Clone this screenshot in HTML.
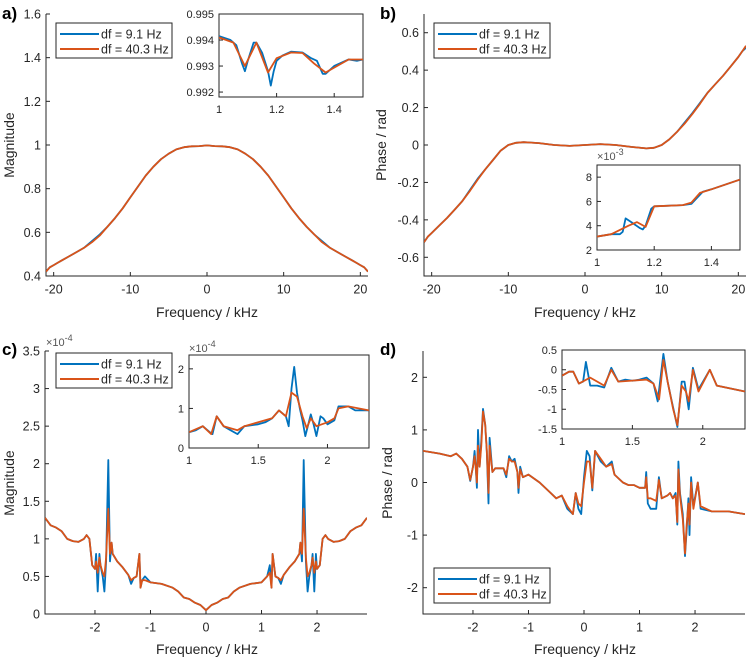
<!DOCTYPE html>
<html><head><meta charset="utf-8">
<style>
body{margin:0;background:#fff;}
svg{display:block;font-family:"Liberation Sans",sans-serif;}
</style></head>
<body>
<svg id="fig" width="756" height="661" viewBox="0 0 756 661" xmlns="http://www.w3.org/2000/svg"></svg>
<script>
// ---------- DATA ----------
const aX = [-21,-20.5,-20,-19.5,-19,-18,-17,-16,-15,-14,-13,-12,-11,-10,-9,-8,-7,-6,-5,-4,-3,-2,-1,0,1,2,3,4,5,6,7,8,9,10,11,12,13,14,15,16,17,18,19,19.5,20,20.5,21];
const aBlue = [0.42,0.44,0.45,0.46,0.47,0.49,0.51,0.53,0.56,0.59,0.625,0.665,0.71,0.76,0.81,0.86,0.90,0.935,0.96,0.98,0.99,0.994,0.995,0.998,0.995,0.994,0.99,0.98,0.96,0.935,0.90,0.86,0.81,0.76,0.71,0.665,0.625,0.59,0.56,0.53,0.51,0.49,0.47,0.46,0.45,0.44,0.42];
const aOrange = [0.42,0.44,0.45,0.46,0.47,0.49,0.51,0.53,0.555,0.585,0.625,0.665,0.71,0.76,0.81,0.86,0.90,0.935,0.96,0.98,0.99,0.994,0.995,0.998,0.995,0.994,0.99,0.98,0.96,0.935,0.90,0.86,0.81,0.76,0.71,0.665,0.625,0.59,0.555,0.53,0.51,0.49,0.47,0.46,0.45,0.44,0.42];
const aInsBlueX = [1.0,1.04,1.06,1.08,1.09,1.10,1.12,1.13,1.15,1.17,1.18,1.19,1.2,1.22,1.25,1.29,1.32,1.34,1.36,1.37,1.4,1.45,1.48,1.5];
const aInsBlue = [0.99415,0.9940,0.9938,0.9931,0.9928,0.9932,0.9939,0.9939,0.9935,0.9928,0.99225,0.9928,0.9932,0.9934,0.99355,0.99352,0.9933,0.9932,0.9927,0.9927,0.9930,0.99325,0.9932,0.99325];
const aInsOrangeX = [1.0,1.05,1.09,1.13,1.17,1.2,1.25,1.29,1.33,1.37,1.41,1.45,1.5];
const aInsOrange = [0.9941,0.9939,0.9930,0.9939,0.99275,0.9933,0.99352,0.9935,0.9931,0.99275,0.9930,0.99325,0.99325];
const bX = [-21,-20.5,-20,-19,-18,-17,-16,-15,-14,-13,-12,-11,-10,-9,-8,-7,-6,-4,-2,0,2,4,6,7,8,9,10,11,12,13,14,15,16,17,18,19,20,20.5,21];
const bBlue = [-0.52,-0.49,-0.47,-0.43,-0.39,-0.345,-0.30,-0.24,-0.18,-0.13,-0.08,-0.03,0.0,0.012,0.015,0.013,0.01,0.0,-0.005,0.0,0.005,0.0,-0.01,-0.014,-0.018,-0.015,0.0,0.03,0.07,0.12,0.17,0.225,0.28,0.325,0.37,0.42,0.47,0.5,0.52];
const bOrange = [-0.52,-0.49,-0.47,-0.43,-0.39,-0.345,-0.30,-0.245,-0.185,-0.13,-0.08,-0.03,0.0,0.012,0.015,0.013,0.01,0.0,-0.005,0.0,0.005,0.0,-0.01,-0.014,-0.018,-0.015,0.0,0.03,0.07,0.115,0.165,0.22,0.28,0.325,0.37,0.42,0.47,0.5,0.53];
const bInsBlueX = [1.0,1.05,1.08,1.09,1.10,1.12,1.15,1.16,1.17,1.19,1.2,1.3,1.33,1.35,1.37,1.4,1.5];
const bInsBlue = [3.1,3.3,3.3,3.5,4.6,4.3,3.8,3.7,4.0,5.4,5.6,5.7,5.8,6.3,6.8,7.0,7.8];
const bInsOrangeX = [1.0,1.05,1.11,1.14,1.17,1.2,1.3,1.33,1.36,1.4,1.5];
const bInsOrange = [3.1,3.3,4.0,4.3,3.9,5.6,5.7,5.9,6.7,7.0,7.8];
const cX = [-2.9,-2.8,-2.7,-2.6,-2.5,-2.4,-2.3,-2.2,-2.15,-2.1,-2.05,-2.0,-1.98,-1.95,-1.92,-1.9,-1.86,-1.83,-1.8,-1.76,-1.73,-1.7,-1.68,-1.6,-1.5,-1.4,-1.35,-1.3,-1.25,-1.2,-1.18,-1.15,-1.1,-1.0,-0.8,-0.6,-0.5,-0.4,-0.3,-0.2,-0.1,0,0.1,0.2,0.3,0.4,0.5,0.6,0.8,1.0,1.1,1.15,1.18,1.2,1.25,1.3,1.35,1.4,1.5,1.6,1.68,1.7,1.73,1.76,1.8,1.83,1.86,1.9,1.92,1.95,1.98,2.0,2.05,2.1,2.15,2.2,2.3,2.4,2.5,2.6,2.7,2.8,2.9];
const cBlue = [1.28,1.18,1.15,1.1,1.0,0.97,0.96,1.0,1.05,1.0,0.65,0.6,0.8,0.3,0.8,0.65,0.5,0.3,0.7,2.05,0.7,0.95,0.8,0.7,0.62,0.52,0.4,0.48,0.5,0.8,0.35,0.45,0.5,0.42,0.4,0.35,0.3,0.22,0.2,0.15,0.12,0.05,0.12,0.15,0.2,0.22,0.3,0.35,0.4,0.42,0.5,0.65,0.35,0.8,0.5,0.48,0.4,0.52,0.62,0.7,0.8,0.95,0.7,2.05,0.7,0.3,0.5,0.65,0.8,0.3,0.8,0.6,0.65,1.0,1.05,1.0,0.96,0.97,1.0,1.1,1.15,1.18,1.28];
const cOrange = [1.28,1.18,1.15,1.1,1.0,0.97,0.96,1.0,1.05,1.0,0.65,0.6,0.7,0.55,0.75,0.65,0.55,0.5,0.75,1.4,0.8,0.95,0.8,0.7,0.62,0.52,0.45,0.48,0.5,0.8,0.35,0.45,0.45,0.42,0.4,0.35,0.3,0.22,0.2,0.15,0.12,0.05,0.12,0.15,0.2,0.22,0.3,0.35,0.4,0.42,0.5,0.55,0.35,0.8,0.5,0.48,0.45,0.52,0.62,0.7,0.8,0.95,0.8,1.4,0.75,0.5,0.55,0.65,0.75,0.55,0.7,0.6,0.65,1.0,1.05,1.0,0.96,0.97,1.0,1.1,1.15,1.18,1.28];
const cInsBlueX = [1.0,1.05,1.1,1.15,1.17,1.2,1.25,1.3,1.35,1.4,1.5,1.55,1.6,1.65,1.7,1.72,1.74,1.76,1.78,1.8,1.82,1.84,1.88,1.9,1.92,1.95,1.97,2.0,2.05,2.08,2.15,2.2,2.3];
const cInsBlue = [0.4,0.45,0.55,0.4,0.35,0.8,0.55,0.45,0.35,0.55,0.6,0.65,0.75,0.95,0.8,0.55,1.5,2.05,1.4,1.0,0.7,0.3,0.85,0.6,0.3,0.8,0.75,0.6,0.7,1.05,1.05,0.95,0.95];
const cInsOrangeX = [1.0,1.1,1.16,1.2,1.25,1.35,1.4,1.5,1.6,1.65,1.7,1.74,1.78,1.82,1.85,1.88,1.92,2.0,2.05,2.08,2.15,2.3];
const cInsOrange = [0.4,0.55,0.35,0.8,0.55,0.45,0.55,0.65,0.75,0.95,0.8,1.4,1.3,0.8,0.5,0.75,0.55,0.65,0.75,1.0,1.05,0.95];
const dX = [-2.9,-2.6,-2.4,-2.3,-2.2,-2.1,-2.05,-2.0,-1.97,-1.95,-1.93,-1.91,-1.88,-1.85,-1.82,-1.78,-1.75,-1.72,-1.7,-1.65,-1.6,-1.5,-1.45,-1.4,-1.35,-1.3,-1.25,-1.2,-1.18,-1.15,-1.1,-1.0,-0.8,-0.6,-0.5,-0.4,-0.3,-0.2,-0.15,-0.1,-0.05,0.0,0.05,0.1,0.15,0.2,0.3,0.4,0.5,0.55,0.7,0.8,0.9,1.0,1.1,1.12,1.15,1.2,1.3,1.35,1.4,1.5,1.55,1.6,1.65,1.68,1.7,1.73,1.78,1.82,1.85,1.88,1.9,1.93,1.97,2.05,2.1,2.3,2.6,2.9];
const dBlue = [0.6,0.55,0.5,0.55,0.45,0.3,0.03,0.3,0.6,0.3,-0.1,1.0,0.3,0.8,1.4,1.1,0.6,-0.4,0.85,0.2,0.27,0.27,0.27,0.1,0.5,0.4,0.45,0.2,-0.2,0.3,0.1,0.15,0.0,-0.2,-0.3,-0.25,-0.5,-0.6,-0.2,-0.5,-0.6,0.1,0.6,0.5,-0.15,0.6,0.4,0.3,0.4,0.15,0.0,-0.05,-0.05,-0.1,-0.1,0.2,-0.4,-0.5,-0.5,0.1,-0.3,-0.25,-0.2,-0.3,-0.2,-0.8,0.4,-0.2,-0.6,-1.4,-0.9,-0.3,-1.0,0.1,-0.45,0.0,-0.5,-0.55,-0.55,-0.6];
const dOrange = [0.6,0.55,0.5,0.55,0.45,0.3,0.05,0.3,0.5,0.3,0.0,0.7,0.3,0.7,1.35,1.1,0.6,-0.2,0.7,0.2,0.27,0.27,0.27,0.15,0.45,0.4,0.4,0.2,-0.1,0.25,0.1,0.15,0.0,-0.2,-0.3,-0.25,-0.45,-0.6,-0.2,-0.4,-0.45,0.0,0.4,0.4,-0.1,0.6,0.45,0.3,0.35,0.15,0.0,-0.05,-0.05,-0.1,-0.1,0.1,-0.3,-0.3,-0.35,0.05,-0.3,-0.25,-0.2,-0.3,-0.25,-0.75,0.25,-0.25,-0.7,-1.35,-0.8,-0.4,-0.8,0.0,-0.5,0.0,-0.45,-0.55,-0.55,-0.6];
const dInsBlueX = [1.0,1.05,1.08,1.12,1.15,1.17,1.2,1.25,1.3,1.35,1.4,1.45,1.5,1.55,1.6,1.65,1.68,1.72,1.75,1.78,1.82,1.85,1.87,1.9,1.93,1.97,2.05,2.1,2.3];
const dInsBlue = [-0.15,-0.05,-0.05,-0.35,-0.3,0.2,-0.4,-0.4,-0.45,0.05,-0.3,-0.25,-0.28,-0.25,-0.2,-0.35,-0.8,0.4,-0.3,-0.8,-1.45,-0.3,-0.3,-1.0,0.05,-0.5,0.0,-0.4,-0.55];
const dInsOrangeX = [1.0,1.05,1.08,1.12,1.2,1.3,1.35,1.4,1.6,1.65,1.69,1.72,1.75,1.79,1.82,1.85,1.88,1.9,1.93,1.97,2.05,2.1,2.3];
const dInsOrange = [-0.15,-0.05,-0.05,-0.35,-0.2,-0.4,0.0,-0.3,-0.25,-0.35,-0.75,0.25,-0.3,-1.0,-1.4,-0.4,-0.55,-0.8,0.0,-0.55,0.0,-0.4,-0.55];

const ticksKHzWide = [-20,-10,0,10,20];
const ticksKHzNarrow = [-2,-1,0,1,2];
const ticksA = [0.4,0.6,0.8,1,1.2,1.4,1.6];
const ticksB = [-0.6,-0.4,-0.2,0,0.2,0.4,0.6];
const ticksC = [0,0.5,1,1.5,2,2.5,3,3.5];
const ticksD = [-2,-1,0,1,2];
const ticksInsAX = [1,1.2,1.4];
const ticksInsAY = [0.992,0.993,0.994,0.995];
const ticksInsBY = [2,4,6,8];
const ticksInsCX = [1,1.5,2];
const ticksInsCY = [0,1,2];
const ticksInsDY = [-1.5,-1,-0.5,0,0.5];

// ---------- DRAW ----------
const NS = "http://www.w3.org/2000/svg";
const svg = document.getElementById("fig");
const AX = "#262626", BLUE = "#0072BD", ORANGE = "#D95319";
function mk(tag, attrs, parent){ const e=document.createElementNS(NS,tag); for(const k in attrs) e.setAttribute(k,attrs[k]); (parent||svg).appendChild(e); return e; }
function txt(s,x,y,anchor,size,parent,extra){ const t=mk("text",Object.assign({x:x,y:y,"text-anchor":anchor,"font-size":size,fill:AX},extra||{}),parent); t.textContent=s; return t; }

function axes(name,L,T,R,B,xmin,xmax,ymin,ymax,box){
  const g=mk("g",{});
  
  
  if(box){ mk("rect",{x:L,y:T,width:R-L,height:B-T,fill:"#fff",stroke:AX,"stroke-width":1},g); }
  else { mk("path",{d:`M${L},${T}V${B}H${R}`,fill:"none",stroke:AX,"stroke-width":1},g); }
  return {g,L,T,R,B,sx:v=>L+(v-xmin)/(xmax-xmin)*(R-L),sy:v=>B-(v-ymin)/(ymax-ymin)*(B-T)};
}
function ticks(ax,xt,yt,fs,fmtX,fmtY){
  const g=ax.g;
  xt.forEach(v=>{const x=ax.sx(v); mk("line",{x1:x,x2:x,y1:ax.B,y2:ax.B-4,stroke:AX},g); const t=txt(fmtX?fmtX(v):String(v),x,ax.B+fs+5,"middle",fs,g);  });
  yt.forEach(v=>{const y=ax.sy(v); mk("line",{x1:ax.L,x2:ax.L+4,y1:y,y2:y,stroke:AX},g); const t=txt(fmtY?fmtY(v):String(v),ax.L-5,y+fs*0.36,"end",fs,g);  });
}
function series(ax,xs,ys,color,name,clipId){
  const d=xs.map((x,i)=>(i?"L":"M")+ax.sx(x).toFixed(1)+","+ax.sy(ys[i]).toFixed(1)).join("");
  const p=mk("path",{d:d,fill:"none",stroke:color,"stroke-width":1.8,"stroke-linejoin":"round","clip-path":`url(#${clipId})`},ax.g);
  
  
}
function clip(id,ax){ const defs=mk("defs",{}); const c=mk("clipPath",{id:id},defs); mk("rect",{x:ax.L,y:ax.T,width:ax.R-ax.L,height:ax.B-ax.T},c); }
function legend(x,y,name){
  const g=mk("g",{});
  
  
  mk("rect",{x:x,y:y,width:116,height:35,fill:"#fff",stroke:AX,"stroke-width":1},g);
  mk("line",{x1:x+4,x2:x+43,y1:y+11,y2:y+11,stroke:BLUE,"stroke-width":2},g);
  mk("line",{x1:x+4,x2:x+43,y1:y+26,y2:y+26,stroke:ORANGE,"stroke-width":2},g);
  txt("df = 9.1 Hz",x+45,y+15.5,"start",12.5,g);
  txt("df = 40.3 Hz",x+45,y+30.5,"start",12.5,g);
}
function label(s,x,y){ const t=txt(s,x,y,"start",17,null,{"font-weight":"bold",fill:"#000"});   }
function xlabel(x,y){ const t=txt("Frequency / kHz",x,y,"middle",14);   }
function ylabel(s,x,y){ const t=txt(s,x,y,"middle",14,null,{transform:`rotate(-90 ${x} ${y})`});   }
function expo(s,x,y){ const t=mk("text",{x:x,y:y,"font-size":11,fill:"#555"}); t.innerHTML="×10<tspan dy='-5' font-size='9'>"+s+"</tspan>";   }
const f1=v=>v.toFixed(1), f3=v=>v.toFixed(3);

// Panel a
let A=axes("panel-a-axes",46,14,368,276,-21,21,0.4,1.6,false); clip("ca",A);
ticks(A,ticksKHzWide,ticksA,12.5,null,v=>(v===1?"1":f1(v)));
series(A,aX,aBlue,BLUE,"series-a-9.1hz","ca"); series(A,aX,aOrange,ORANGE,"series-a-40.3hz","ca");
legend(56,23,"legend-a"); label("a)",2,19); xlabel(207,317); ylabel("Magnitude",14,145);
let Ai=axes("inset-a-axes",219,14,363,97,1,1.5,0.99181,0.995,true); clip("cai",Ai);
ticks(Ai,ticksInsAX,ticksInsAY,11,v=>(v===1?"1":f1(v)),f3);
series(Ai,aInsBlueX,aInsBlue,BLUE,"inset-a-9.1hz","cai"); series(Ai,aInsOrangeX,aInsOrange,ORANGE,"inset-a-40.3hz","cai");

// Panel b
let Bp=axes("panel-b-axes",424,14,746,276,-21,21,-0.7,0.7,false); clip("cb",Bp);
ticks(Bp,ticksKHzWide,ticksB,12.5,null,v=>(v===0?"0":f1(v)));
series(Bp,bX,bBlue,BLUE,"series-b-9.1hz","cb"); series(Bp,bX,bOrange,ORANGE,"series-b-40.3hz","cb");
legend(434,23,"legend-b"); label("b)",380,19); xlabel(585,317); ylabel("Phase / rad",386,145);
let Bi=axes("inset-b-axes",597,165,740,250,1,1.5,2,9,true); clip("cbi",Bi);
ticks(Bi,ticksInsAX,ticksInsBY,11,v=>(v===1?"1":f1(v)),null);
series(Bi,bInsBlueX,bInsBlue,BLUE,"inset-b-9.1hz","cbi"); series(Bi,bInsOrangeX,bInsOrange,ORANGE,"inset-b-40.3hz","cbi");
expo("-3",597,160);

// Panel c
let C=axes("panel-c-axes",45,351,367,614,-2.9,2.9,0,3.5,false); clip("cc",C);
ticks(C,ticksKHzNarrow,ticksC,12.5,null,v=>String(v));
series(C,cX,cBlue,BLUE,"series-c-9.1hz","cc"); series(C,cX,cOrange,ORANGE,"series-c-40.3hz","cc");
legend(56,353,"legend-c"); label("c)",2,355); xlabel(207,654); ylabel("Magnitude",14,483);
expo("-4",46,346);
let Ci=axes("inset-c-axes",189,355,369,448,1,2.3,0,2.35,true); clip("cci",Ci);
ticks(Ci,ticksInsCX,ticksInsCY,11,v=>String(v),null);
series(Ci,cInsBlueX,cInsBlue,BLUE,"inset-c-9.1hz","cci"); series(Ci,cInsOrangeX,cInsOrange,ORANGE,"inset-c-40.3hz","cci");
expo("-4",189,352);

// Panel d
let D=axes("panel-d-axes",423,351,745,614,-2.9,2.9,-2.5,2.5,false); clip("cd",D);
ticks(D,ticksKHzNarrow,ticksD,12.5,null,v=>String(v));
series(D,dX,dBlue,BLUE,"series-d-9.1hz","cd"); series(D,dX,dOrange,ORANGE,"series-d-40.3hz","cd");
legend(434,568,"legend-d"); label("d)",380,355); xlabel(585,654); ylabel("Phase / rad",392,483);
let Di=axes("inset-d-axes",562,350,745,429,1,2.3,-1.5,0.5,true); clip("cdi",Di);
ticks(Di,ticksInsCX,ticksInsDY,11,v=>String(v),v=>String(v));
series(Di,dInsBlueX,dInsBlue,BLUE,"inset-d-9.1hz","cdi"); series(Di,dInsOrangeX,dInsOrange,ORANGE,"inset-d-40.3hz","cdi");
</script>
</body></html>
